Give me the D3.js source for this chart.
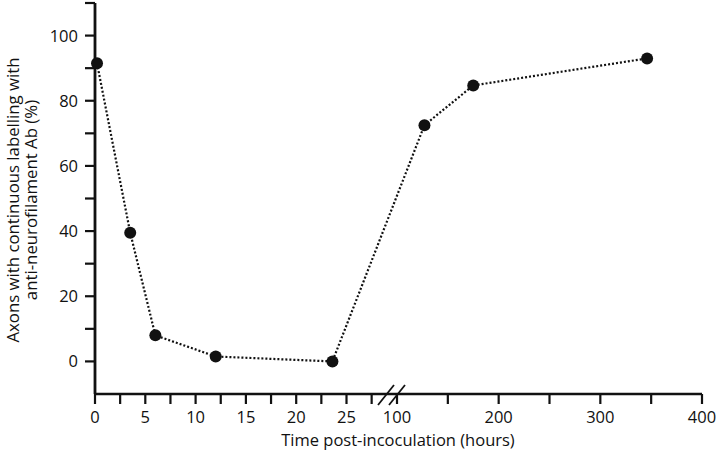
<!DOCTYPE html>
<html>
  <head>
    <meta charset="utf-8">
    <style>
      body { margin: 0; background: #fff; }
      text { font-family: "Open Sans", sans-serif; fill: #111; }
    </style>
  </head>
  <body>
    <script src="https://cdn.jsdelivr.net/npm/d3@7"></script>
    <script>
      // time in hours, % of axons with continuous labelling
      var hours = [0.2, 3.5, 6, 12, 23.6, 127, 175, 346];
      var percent = [91.5, 39.5, 8, 1.5, 0, 72.5, 84.7, 93];

      var yMajor = [0, 20, 40, 60, 80, 100];
      var yMinor = [10, 30, 50, 70, 90, 110];
      var xLeftMajor = [0, 5, 10, 15, 20, 25];
      var xLeftMinor = [2.5, 7.5, 12.5, 17.5, 22.5, 27.5];
      var xRightMajor = [100, 200, 300, 400];
      var xRightMinor = [150, 250, 350];

      var breakAt = 50;

      var svg = d3.select('body')
        .append('svg')
        .attr('width', 720)
        .attr('height', 458);

      var y = d3.scaleLinear().domain([-10, 110]).range([394, 3]);
      var xLeft = d3.scaleLinear().domain([0, 25]).range([95, 346.5]);
      var xRight = d3.scaleLinear().domain([100, 400]).range([397, 702]);

      function xpos(h) { return h < breakAt ? xLeft(h) : xRight(h); }

      var axisG = svg.append('g')
        .attr('stroke', '#111')
        .attr('fill', 'none');

      // y axis line
      axisG.append('line')
        .attr('x1', xLeft(0)).attr('x2', xLeft(0))
        .attr('y1', y(110)).attr('y2', y(-10))
        .attr('stroke-width', 2.8);

      // x axis line
      axisG.append('line')
        .attr('x1', xLeft(0)).attr('x2', xRight(400))
        .attr('y1', y(-10)).attr('y2', y(-10))
        .attr('stroke-width', 2.6);

      // y ticks
      axisG.selectAll('.ytick')
        .data(yMajor.concat(yMinor))
        .enter()
        .append('line')
        .attr('x1', xLeft(0) - 10).attr('x2', xLeft(0))
        .attr('y1', function (d) { return y(d); })
        .attr('y2', function (d) { return y(d); })
        .attr('stroke-width', 2.2);

      // x ticks (both segments)
      var xTicks = xLeftMajor.concat(xLeftMinor).map(xLeft)
        .concat(xRightMajor.concat(xRightMinor).map(xRight));

      axisG.selectAll('.xtick')
        .data(xTicks)
        .enter()
        .append('line')
        .attr('x1', function (d) { return d; })
        .attr('x2', function (d) { return d; })
        .attr('y1', y(-10)).attr('y2', y(-10) + 10)
        .attr('stroke-width', 2.2);

      // axis break marks
      axisG.selectAll('.brk')
        .data([378, 389])
        .enter()
        .append('line')
        .attr('x1', function (d) { return d; })
        .attr('y1', y(-10) + 11)
        .attr('x2', function (d) { return d + 16; })
        .attr('y2', y(-10) - 9)
        .attr('stroke-width', 1.8);

      // tick labels
      svg.selectAll('.ylab')
        .data(yMajor)
        .enter()
        .append('text')
        .attr('x', 78)
        .attr('y', function (d) { return y(d); })
        .attr('dy', '0.36em')
        .attr('text-anchor', 'end')
        .style('font-size', '16.5px')
        .text(function (d) { return d; });

      var xLabels = xLeftMajor.map(function (d) { return { p: xLeft(d), t: d }; })
        .concat(xRightMajor.map(function (d) { return { p: xRight(d), t: d }; }));

      svg.selectAll('.xlab')
        .data(xLabels)
        .enter()
        .append('text')
        .attr('x', function (d) { return d.p; })
        .attr('y', 417)
        .attr('dy', '0.36em')
        .attr('text-anchor', 'middle')
        .style('font-size', '16.5px')
        .text(function (d) { return d.t; });

      // axis titles
      svg.append('text')
        .attr('x', 398).attr('y', 446)
        .attr('text-anchor', 'middle')
        .style('font-size', '16.5px')
        .text('Time post-incoculation (hours)');

      var ytitle = svg.append('text')
        .attr('transform', 'translate(19,200) rotate(-90)')
        .attr('text-anchor', 'middle')
        .style('font-size', '16.8px');
      ytitle.append('tspan').attr('x', 0).attr('dy', 0)
        .text('Axons with continuous labelling with');
      ytitle.append('tspan').attr('x', 0).attr('dy', '1.08em')
        .text('anti-neurofilament Ab (%)');

      // dotted line and points
      var line = d3.line()
        .x(function (d) { return xpos(d[0]); })
        .y(function (d) { return y(d[1]); });

      var pts = d3.zip(hours, percent);

      svg.append('path')
        .datum(pts)
        .attr('d', line)
        .attr('fill', 'none')
        .attr('stroke', '#111')
        .attr('stroke-width', 2.2)
        .attr('stroke-dasharray', '2,2');

      svg.selectAll('circle')
        .data(pts)
        .enter()
        .append('circle')
        .attr('cx', function (d) { return xpos(d[0]); })
        .attr('cy', function (d) { return y(d[1]); })
        .attr('r', 6)
        .attr('fill', '#111');
    </script>
  </body>
</html>
